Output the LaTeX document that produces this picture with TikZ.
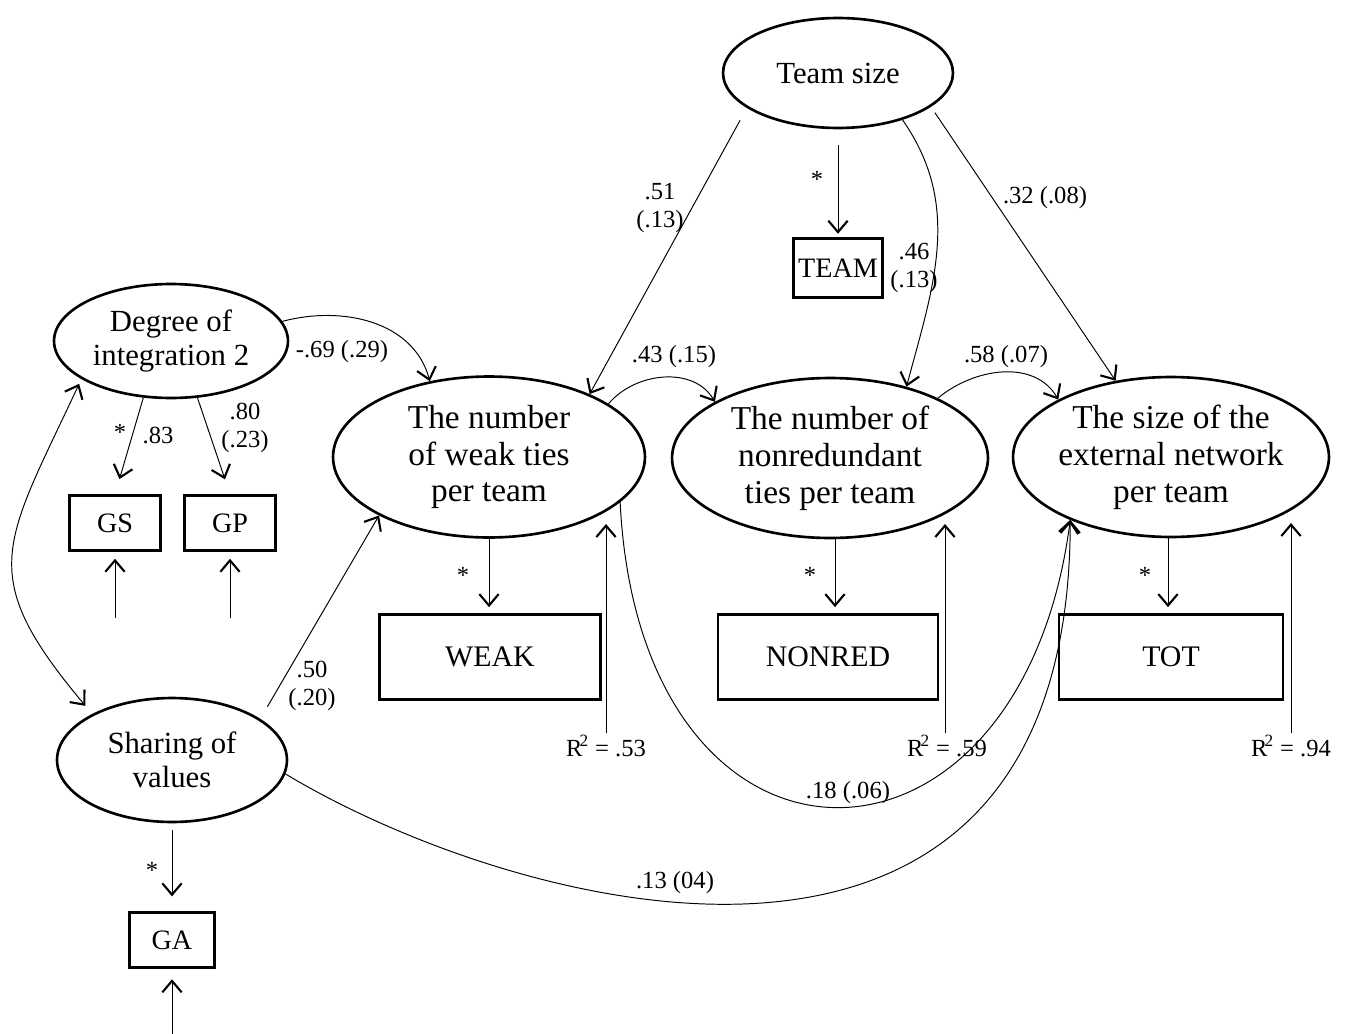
\documentclass[tikz,border=0pt]{standalone}
\usepackage{fontspec}
\setmainfont{Liberation Serif}
\usetikzlibrary{shapes.geometric,arrows.meta}
\begin{document}
\begin{tikzpicture}[x=0.02cm,y=-0.02cm,
 lat/.style={ellipse,draw,line width=1.5pt,inner sep=-3pt,align=center,font=\fontsize{19}{21}\selectfont},
 slat/.style={ellipse,draw,line width=1.5pt,inner sep=0pt,align=center,font=\fontsize{17.5}{19.5}\selectfont},
 obs/.style={rectangle,draw,line width=1.4pt,inner sep=0pt,font=\fontsize{17}{19}\selectfont},
 sobs/.style={rectangle,draw,line width=1.4pt,inner sep=0pt,font=\fontsize{16}{18}\selectfont},
 tipb/.tip={Straight Barb[length=6.5pt,width=11pt,line width=1.2pt]},
 pth/.style={line width=0.55pt,-tipb},
 lab/.style={font=\fontsize{14}{16}\selectfont,align=center,inner sep=1pt},
]
\useasboundingbox (0,0) rectangle (1352,1034);
% latent variables
\node[slat,minimum width=4.6cm,minimum height=2.2cm] (ts) at (838,73) {Team size};
\node[slat,minimum width=4.68cm,minimum height=2.28cm] (deg) at (171,341) {Degree of\\integration 2};
\node[slat,minimum width=4.6cm,minimum height=2.48cm] (sv) at (172,760) {Sharing of\\values};
\node[lat,minimum width=6.24cm,minimum height=3.22cm] (weak) at (489,457) {The number\\of weak ties\\per team};
\node[lat,minimum width=6.32cm,minimum height=3.2cm] (nr) at (830,458) {The number of\\nonredundant\\ties per team};
\node[lat,minimum width=6.32cm,minimum height=3.2cm] (tot) at (1171,457) {The size of the\\external network\\per team};
% observed
\node[sobs,minimum width=1.82cm,minimum height=1.1cm] (gs) at (115,523) {GS};
\node[sobs,minimum width=1.82cm,minimum height=1.1cm] (gp) at (230,523) {GP};
\node[sobs,minimum width=1.78cm,minimum height=1.18cm] (team) at (838,268) {TEAM};
\node[obs,minimum width=4.42cm,minimum height=1.7cm] (wk) at (490,657) {WEAK};
\node[obs,minimum width=4.4cm,minimum height=1.7cm] (nrb) at (828,657) {NONRED};
\node[obs,minimum width=4.48cm,minimum height=1.7cm] (totb) at (1171,657) {TOT};
\node[sobs,minimum width=1.7cm,minimum height=1.1cm] (ga) at (172,940) {GA};
% free ends
\coordinate (gse) at (115,618);
\coordinate (gpe) at (230,618);
\coordinate (gae) at (172,1034);
\coordinate (w53) at (606,524);
\coordinate (w59) at (945,524);
\coordinate (w94) at (1291,523);
% R^2 labels
\node[lab] (r53) at (606,746) {R\kern-0.12em\textsuperscript{2} = .53};
\node[lab] (r59) at (947,746) {R\kern-0.12em\textsuperscript{2} = .59};
\node[lab] (r94) at (1291,746) {R\kern-0.12em\textsuperscript{2} = .94};
% paths
\draw[pth,shorten <=9pt,shorten >=2pt] (ts) -- (team);
\draw[pth,shorten <=8pt] (ts.201) -- (weak.32);
\draw[pth] (ts.-36) to[out=-55,in=75] (nr.43);
\draw[pth,shorten <=4pt] (ts.-20) -- (tot.126);
\draw[pth] (deg.10) to[out=15,in=105] (weak.128);
\draw[pth] (weak.24) to[out=50,in=120] (nr.154);
\draw[pth] (nr.29) to[out=40,in=120] (tot.153);
\draw[pth,shorten >=9pt] (deg.244) -- (gs.north);
\draw[pth,shorten >=9pt] (deg.295) -- (gp.north);
\draw[pth,shorten >=4pt] (gse) -- (gs);
\draw[pth,shorten >=4pt] (gpe) -- (gp);
\draw[line width=0.55pt,tipb-tipb,shorten >=6pt,shorten <=3pt] (deg.203) to[out=245,in=130,looseness=1.4] (sv.150);
\draw[pth,shorten <=8pt] (sv.25) -- (weak.208);
\draw[pth] (weak.-19) .. controls (640,906) and (1020,906) .. (tot.212);
\draw[pth] (sv.-7) .. controls (520,915) and (1070,1060) .. (tot.212);
\draw[pth,shorten <=4pt,shorten >=8.5pt] (sv) -- (ga);
\draw[pth,shorten >=6pt] (gae) -- (ga);
\draw[pth,shorten >=3.5pt] (weak.south) -- (weak.south |- wk.north);
\draw[pth,shorten >=3.5pt] ([xshift=0.1cm]nr.south) -- ([xshift=0.1cm]nr.south |- nrb.north);
\draw[pth,shorten >=3.5pt] ([xshift=-0.06cm]tot.south) -- ([xshift=-0.06cm]tot.south |- totb.north);
\draw[pth] (r53.north) -- (w53);
\draw[pth] (r59.north -| w59) -- (w59);
\draw[pth] (r94.north) -- (w94);
% coefficient labels
\node[lab] (l1) at (817,179) {*};
\node[lab] (l2) at (660,208) {.51\\(.13)};
\node[lab] (l3) at (914,268) {.46\\(.13)};
\node[lab] (l4) at (1045,198) {.32 (.08)};
\node[lab] (l5) at (342,352) {-.69 (.29)};
\node[lab] (l6) at (674,357) {.43 (.15)};
\node[lab] (l7) at (1006,357) {.58 (.07)};
\node[lab] (l8) at (120,432) {*};
\node[lab] (l9) at (158,435) {.83};
\node[lab] (l10) at (245,428) {.80\\(.23)};
\node[lab] (l11) at (312,686) {.50\\(.20)};
\node[lab] (l12) at (463,575) {*};
\node[lab] (l13) at (810,575) {*};
\node[lab] (l14) at (1145,575) {*};
\node[lab] (l15) at (848,793) {.18 (.06)};
\node[lab] (l16) at (675,883) {.13 (04)};
\node[lab] (l17) at (152,870) {*};
\end{tikzpicture}
\end{document}
